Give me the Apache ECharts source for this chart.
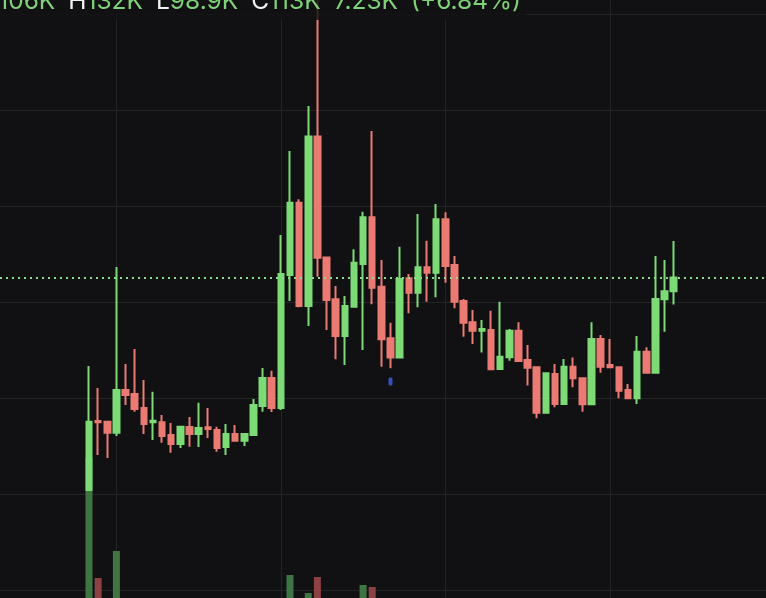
<!DOCTYPE html>
<html><head><meta charset="utf-8">
<script src="https://cdn.jsdelivr.net/npm/echarts@6/dist/echarts.min.js"></script>
<style>html,body{margin:0;padding:0;background:#111114;overflow:hidden}#c{width:766px;height:598px}</style>
</head><body><div id="c"></div>
<script>
// ---- data (prices in K) ----
const categories = Array.from({length: 65}, (_, i) => String(i + 1));
const opens  = [2.3,38.3,37.9,32.2,54.4,52.3,45.1,37.6,37.6,31.0,26.3,35.2,31.5,35.0,33.6,24.7,31.5,28.0,31.0,46.1,60.7,45.1,114.3,152.0,98.2,186.4,123.5,101.7,82.6,97.8,120.1,144.4,108.2,81.4,71.3,112.6,105.1,118.3,115.5,143.3,119.5,100.8,89.7,85.3,85.7,65.4,71.5,85.3,70.1,66.3,42.6,62.8,47.1,66.6,60.5,47.0,81.0,67.5,66.3,54.4,50.1,74.4,63.4,101.7,105.8];
const closes = [37.9,37.6,32.2,54.4,51.8,44.5,36.7,38.4,30.5,26.3,35.3,31.5,34.6,34.1,24.2,31.5,28.0,31.5,46.6,60.7,45.1,114.8,152.0,98.2,186.4,123.3,101.3,82.6,98.2,120.7,144.4,107.7,80.8,71.3,112.2,105.1,118.3,115.5,143.3,119.0,100.4,89.5,85.3,86.2,65.2,71.8,85.3,69.5,66.0,42.6,63.1,47.1,66.6,60.5,47.0,81.0,66.6,66.3,54.1,50.1,74.4,63.4,101.8,105.8,113.0];
const lows   = [2.3,20.6,19.0,30.5,46.6,43.1,31.5,28.4,27.0,21.8,24.2,24.9,24.7,29.4,22.3,20.6,27.9,25.3,30.9,43.1,43.0,44.0,100.8,97.5,87.8,113.4,85.7,70.4,67.5,97.6,75.3,99.1,66.6,65.7,71.1,94.4,97.5,100.4,102.7,110.3,97.0,82.2,78.4,73.9,64.8,65.2,69.7,69.4,56.8,39.7,42.4,45.4,47.0,55.8,43.1,46.9,63.4,66.2,50.1,50.0,47.1,63.3,63.3,84.8,98.9];
const highs  = [66.9,55.5,38.2,118.5,68.0,75.8,59.6,53.5,41.4,37.2,35.6,40.4,47.8,45.1,35.3,36.7,36.2,31.6,49.7,65.9,64.5,135.2,178.9,153.8,202.3,262.0,123.6,108.6,103.4,127.7,147.3,189.3,122.1,89.5,129.1,114.8,146.1,132.2,151.3,147.0,124.2,101.8,96.1,90.9,95.7,100.4,86.2,89.7,77.9,66.4,63.3,68.0,70.6,71.3,60.7,89.7,83.1,81.0,66.4,57.6,82.6,76.7,124.2,122.1,132.0];
const volumes = [140,20,0,47,0,0,0,0,0,0,0,0,0,0,0,0,0,0,0,0,0,0,23,0,5,21,0,0,0,0,13,11,0,0,0,0,0,0,0,0,0,0,0,0,0,0,0,0,0,0,0,0,0,0,0,0,0,0,0,0,0,0,0,0,0];
const markers = [[34, 58.9]]; // [candle number, price]
const priceTicks = [-50, 0, 50, 100, 150, 200, 250];
const legend = {open: '106K', high: '132K', low: '98.9K', close: '113K', change: '7.23K', pct: '+6.84%'};
const lastClose = closes[closes.length - 1];

// ---- styles ----
const UP = '#7ddb76', DOWN = '#ea7a72';
const UPV = '#3f7543', DOWNV = '#8c4142';
const GRIDC = '#242427';

const pxPerK = 576 / (priceTicks[priceTicks.length-1] - priceTicks[0]);
const gTop = 14.5;
const candleMin = priceTicks[0] - 7.5 / pxPerK;
const candleMax = priceTicks[priceTicks.length-1] + gTop / pxPerK;
const step = 9.136, firstX = 89;
const cLeft = firstX - step / 2, cWidth = step * categories.length;

const chart = echarts.init(document.getElementById('c'));
const rs = { fontSize: 24.5, fontWeight: 'normal', fontFamily: 'Inter' };
const WHITE = '#f2f2f2', GREEN = '#7fd277';
chart.setOption({
  animation: false,
  backgroundColor: '#111114',
  title: {
    text: `{w0|O}{g|${legend.open}}{w|H}{g|${legend.high}}{w|L}{g|${legend.low}}{w|C}{g|${legend.close}}{g2|${legend.change}}{g2|(${legend.pct})}`,
    left: -20.5, top: -11, padding: 0, z: 10,
    textStyle: { fontWeight: 'normal', rich: {
      w0: Object.assign({ color: WHITE }, rs),
      w: Object.assign({ color: WHITE, padding: [0, 0, 0, 13] }, rs),
      g: Object.assign({ color: GREEN }, rs),
      g2: Object.assign({ color: GREEN, padding: [0, 0, 0, 13] }, rs)
    }}
  },
  graphic: [{ type: 'rect', z: 5, shape: { x: 0, y: 0, width: 527, height: 20 }, style: { fill: 'rgba(17,17,20,0.82)' } }],
  grid: [
    { left: 0, right: 0, top: gTop, height: 576 },
    { left: cLeft, width: cWidth, top: 0, height: 598 },
    { left: cLeft, width: cWidth, top: 398, height: 200 }
  ],
  xAxis: [
    { type: 'value', gridIndex: 0, min: 0, max: 1, show: false },
    { type: 'category', gridIndex: 1, data: categories, boundaryGap: true,
      axisLine: {show: false}, axisTick: {show: false}, axisLabel: {show: false},
      splitLine: { show: true, alignWithLabel: true, interval: (i) => (i - 3) % 18 === 0, lineStyle: { color: GRIDC, width: 1 } } },
    { type: 'category', gridIndex: 2, data: categories, show: false }
  ],
  yAxis: [
    { type: 'value', gridIndex: 0, min: priceTicks[0], max: priceTicks[priceTicks.length-1], interval: 50,
      axisLine: {show: false}, axisTick: {show: false}, axisLabel: {show: false},
      splitLine: { show: true, lineStyle: { color: GRIDC, width: 1 } } },
    { type: 'value', gridIndex: 1, min: candleMin, max: candleMax, show: false, splitLine: {show: false} },
    { type: 'value', gridIndex: 2, min: 0, max: 200, show: false, splitLine: {show: false} }
  ],
  series: [
    { type: 'line', xAxisIndex: 0, yAxisIndex: 0, data: [], silent: true,
      markLine: { silent: true, symbol: 'none', label: {show: false},
        lineStyle: { color: '#8fd98a', type: [2, 4], width: 2 },
        data: [{ yAxis: lastClose }] } },
    { type: 'bar', xAxisIndex: 2, yAxisIndex: 2, barWidth: 7,
      data: volumes.map((v, i) => ({ value: v, itemStyle: { color: closes[i] >= opens[i] ? UPV : DOWNV } })) },
    { type: 'candlestick', xAxisIndex: 1, yAxisIndex: 1, barWidth: 6, clip: false,
      itemStyle: { color: UP, color0: DOWN, borderColor: UP, borderColor0: DOWN, borderWidth: 2 },
      data: opens.map((o, i) => [o, closes[i], lows[i], highs[i]]) },
    { type: 'scatter', xAxisIndex: 1, yAxisIndex: 1, symbol: 'roundRect', symbolSize: [4, 8],
      itemStyle: { color: '#3f5fe6' },
      data: markers.map(m => [m[0] - 1, m[1]]) }
  ]
});
</script></body></html>
